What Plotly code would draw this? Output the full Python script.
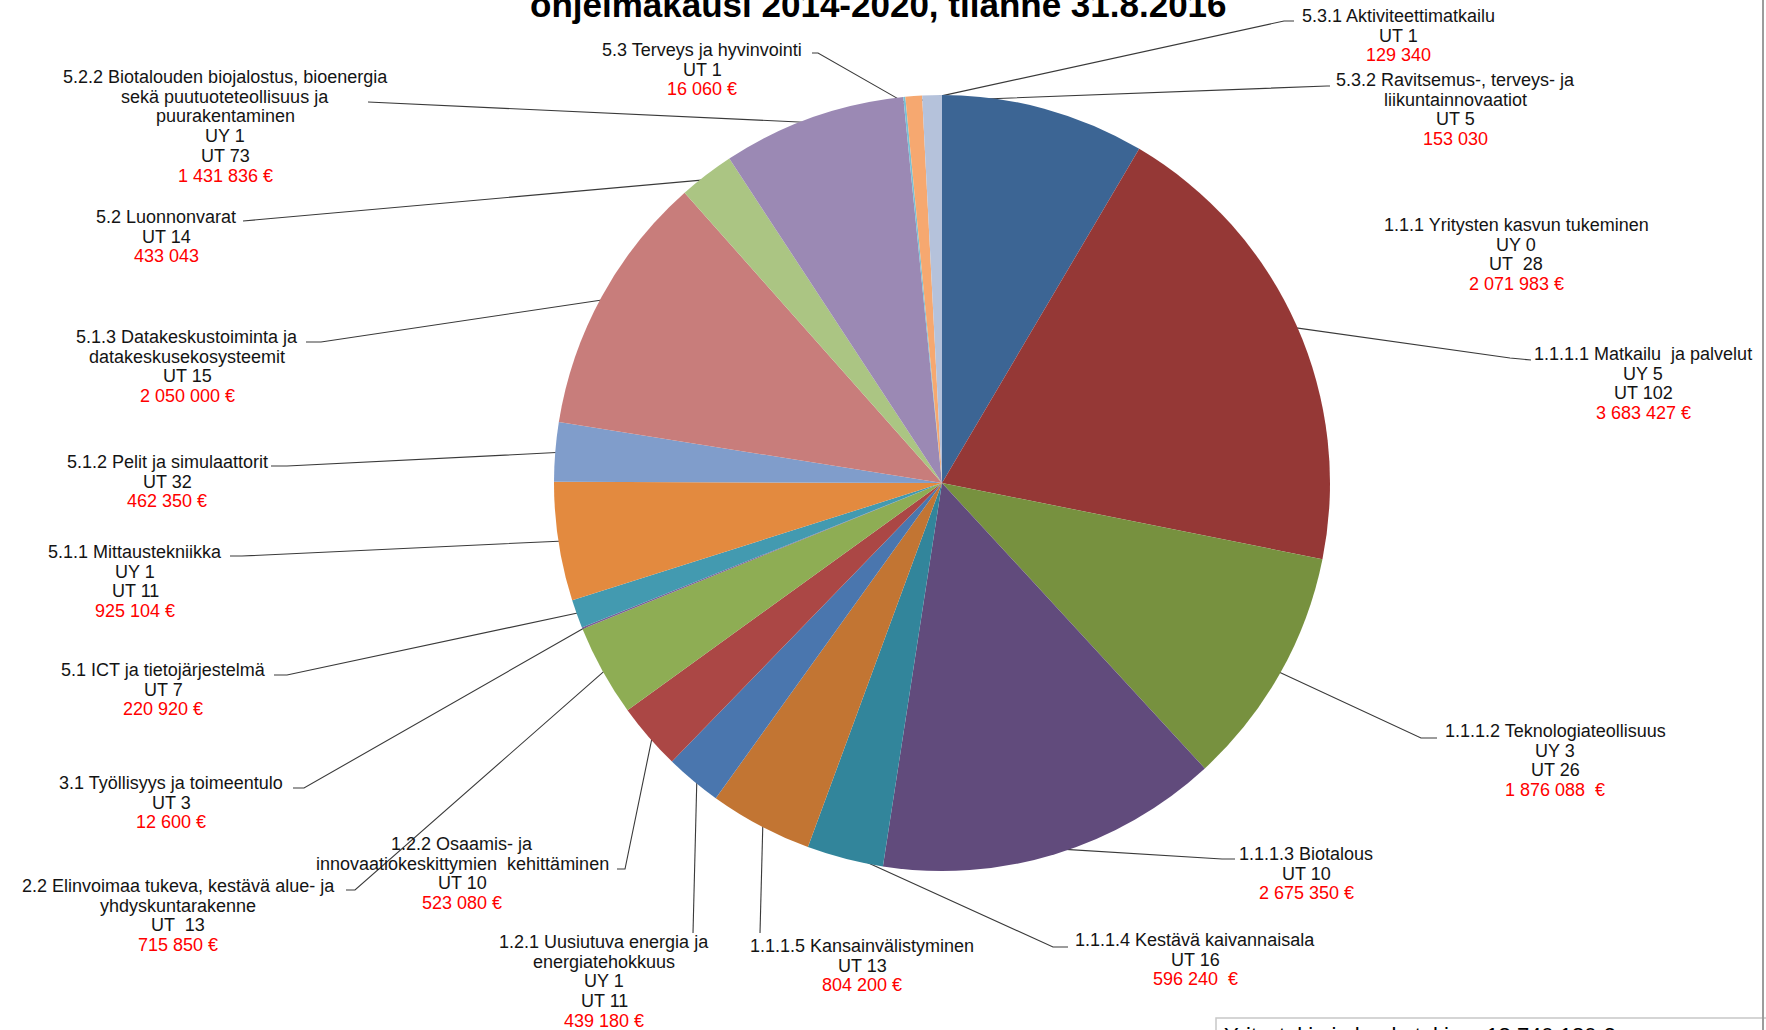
import math
import plotly.graph_objects as go

W, H = 1766, 1030

# ---------------- data ----------------
category_names = [
    "1.1.1 Yritysten kasvun tukeminen",
    "1.1.1.1 Matkailu  ja palvelut",
    "1.1.1.2 Teknologiateollisuus",
    "1.1.1.3 Biotalous",
    "1.1.1.4 Kestävä kaivannaisala",
    "1.1.1.5 Kansainvälistyminen",
    "1.2.1 Uusiutuva energia ja\nenergiatehokkuus",
    "1.2.2 Osaamis- ja\ninnovaatiokeskittymien  kehittäminen",
    "2.2 Elinvoimaa tukeva, kestävä alue- ja\nyhdyskuntarakenne",
    "3.1 Työllisyys ja toimeentulo",
    "5.1 ICT ja tietojärjestelmä",
    "5.1.1 Mittaustekniikka",
    "5.1.2 Pelit ja simulaattorit",
    "5.1.3 Datakeskustoiminta ja\ndatakeskusekosysteemit",
    "5.2 Luonnonvarat",
    "5.2.2 Biotalouden biojalostus, bioenergia\nsekä puutuoteteollisuus ja\npuurakentaminen",
    "5.3 Terveys ja hyvinvointi",
    "5.3.1 Aktiviteettimatkailu",
    "5.3.2 Ravitsemus-, terveys- ja\nliikuntainnovaatiot",
]

slice_values = [
    1590000, 3683427, 1876088, 2675350, 596240, 804200, 439180, 523080,
    715850, 12600, 220920, 925104, 462350, 2050000, 433043, 1431836,
    16060, 129340, 153030,
]

uy_counts = ["UY 0", "UY 5", "UY 3", None, None, None, "UY 1", None,
             None, None, None, "UY 1", None, None, None, "UY 1",
             None, None, None]
ut_counts = ["UT  28", "UT 102", "UT 26", "UT 10", "UT 16", "UT 13", "UT 11",
             "UT 10", "UT  13", "UT 3", "UT 7", "UT 11", "UT 32", "UT 15",
             "UT 14", "UT 73", "UT 1", "UT 1", "UT 5"]
amount_labels = [
    "2 071 983 €", "3 683 427 €", "1 876 088  €", "2 675 350 €", "596 240  €",
    "804 200 €", "439 180 €", "523 080 €", "715 850 €", "12 600 €",
    "220 920 €", "925 104 €", "462 350 €", "2 050 000 €", "433 043",
    "1 431 836 €", "16 060 €", "129 340", "153 030",
]

slice_colors = [
    "#3C6594", "#953836", "#77913F", "#614B7C", "#32859B", "#C27533",
    "#4A76AE", "#AB4745", "#8EAD54", "#7A5E98", "#439AB0", "#E38A3F",
    "#809DCB", "#C87D7B", "#ABC583", "#9B89B4", "#78C0D4", "#F6A870",
    "#B5C2DB",
]

title_text = "ohjelmakausi 2014-2020, tilanne 31.8.2016"
total_text = "Yritystukia ja hanketukia = 18 740 180 €"

# ---------------- layout (pixels) ----------------
CX, CY, R = 942, 483, 388
LINE_STEP = 19.7
FONT = "Liberation Sans, Arial, sans-serif"

label_centers = [
    (1516, 225), (1643, 354), (1555, 731), (1306, 854), (1195, 940),
    (862, 946), (604, 942), (462, 844), (178, 886), (171, 783),
    (163, 670), (135, 552), (167, 462), (187, 337), (166, 217),
    (225, 77), (702, 50), (1398, 16), (1455, 80),
]
label_elbows = [
    None,
    [(1531, 360), (1510, 358)],
    [(1437, 738), (1421, 738)],
    [(1235, 859), (1222, 859)],
    [(1068, 947), (1053, 947)],
    [(760, 933), (760, 933)],
    [(693, 933), (693, 933)],
    [(617, 869), (625, 869)],
    [(346, 890), (355, 890)],
    [(293, 788), (304, 788)],
    [(274, 675), (287, 675)],
    [(230, 556), (242, 556)],
    [(271, 466), (287, 466)],
    [(306, 342), (321, 342)],
    [(243, 221), (243, 221)],
    [(368, 102), (368, 102)],
    [(812, 53), (818, 53)],
    [(1294, 21), (1284, 21)],
    [(1330, 86), (1327, 86)],
]

fig = go.Figure()

fig.add_trace(go.Pie(
    values=slice_values,
    labels=[n.split("\n")[0] for n in category_names],
    sort=False,
    direction="clockwise",
    rotation=0,
    marker=dict(colors=slice_colors, line=dict(width=0)),
    textinfo="none",
    hoverinfo="label+value",
    showlegend=False,
    domain=dict(x=[(CX - R) / W, (CX + R) / W],
                y=[(H - CY - R) / H, (H - CY + R) / H]),
))

# leader lines: computed from the slice mid-angles
total = float(sum(slice_values))
cum = 0.0
for i, v in enumerate(slice_values):
    mid = (cum + v / 2.0) / total
    cum += v
    if label_elbows[i] is None:
        continue
    th = 2 * math.pi * mid
    px = CX + 0.985 * R * math.sin(th)
    py = CY - 0.985 * R * math.cos(th)
    pts = label_elbows[i] + [(px, py)]
    fig.add_trace(go.Scatter(
        x=[p[0] for p in pts], y=[p[1] for p in pts],
        mode="lines", line=dict(color="#3a3a3a", width=1.1),
        hoverinfo="skip", showlegend=False,
    ))

# labels
annotations = []
for i, name in enumerate(category_names):
    lines = name.split("\n")
    if uy_counts[i]:
        lines.append(uy_counts[i])
    lines.append(ut_counts[i])
    cx, cy = label_centers[i]
    for j, ln in enumerate(lines):
        annotations.append(dict(
            x=cx, y=cy + j * LINE_STEP, xref="x", yref="y",
            text=ln, showarrow=False, xanchor="center", yanchor="middle",
            font=dict(family=FONT, size=18, color="#141414"),
        ))
    annotations.append(dict(
        x=cx, y=cy + len(lines) * LINE_STEP, xref="x", yref="y",
        text=amount_labels[i], showarrow=False, xanchor="center",
        yanchor="middle",
        font=dict(family=FONT, size=18, color="#FF0000"),
    ))

annotations.append(dict(
    x=878, y=26, xref="x", yref="y", text="<b>" + title_text + "</b>",
    showarrow=False, xanchor="center", yanchor="bottom",
    font=dict(family=FONT, size=35, color="#000000"),
))
annotations.append(dict(
    x=1222, y=1021, xref="x", yref="y", text=total_text,
    showarrow=False, xanchor="left", yanchor="top",
    font=dict(family=FONT, size=22, color="#000000"),
))

fig.update_layout(
    width=W, height=H,
    margin=dict(l=0, r=0, t=0, b=0),
    paper_bgcolor="white", plot_bgcolor="white",
    xaxis=dict(range=[0, W], visible=False, fixedrange=True),
    yaxis=dict(range=[H, 0], visible=False, fixedrange=True),
    annotations=annotations,
    shapes=[
        dict(type="rect", xref="x", yref="y", x0=1216, y0=1018, x1=1800,
             y1=1100, line=dict(color="#C8C8C8", width=1.5)),
        dict(type="line", xref="x", yref="y", x0=1763, y0=0, x1=1763,
             y1=H, line=dict(color="#9C9C9C", width=2)),
    ],
)

fig.write_html(
    "out.html",
    config={"displayModeBar": False},
    post_script="document.body.style.margin='0';document.body.style.overflow='hidden';",
)
